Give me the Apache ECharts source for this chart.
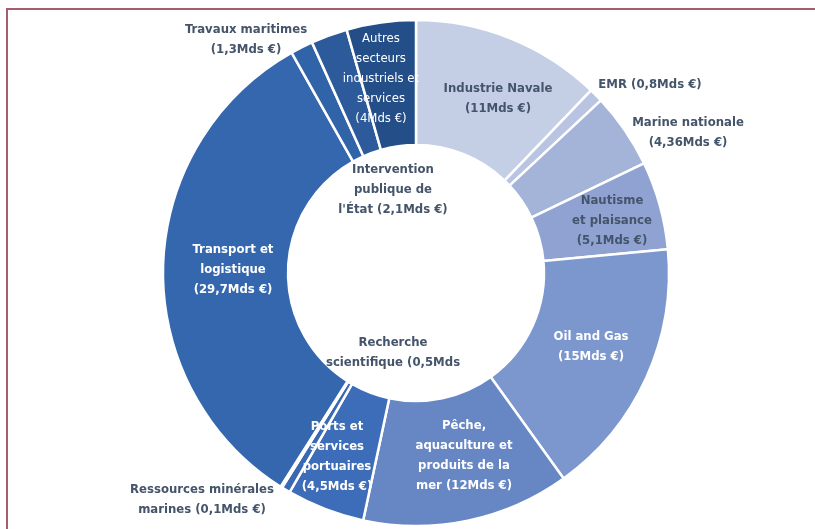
<!DOCTYPE html>
<html>
<head>
<meta charset="utf-8">
<script src="https://cdn.jsdelivr.net/npm/echarts@6/dist/echarts.min.js"></script>
<style>
 html, body { margin: 0; padding: 0; background: #fff; }
 #chart { width: 815px; height: 529px; }
</style>
</head>
<body>
<div id="chart"></div>
<script>
/** données (Mds €), sens horaire depuis midi **/
var secteurs = ['Industrie Navale', 'EMR', 'Marine nationale', 'Nautisme et plaisance', 'Oil and Gas',
 'Pêche, aquaculture et produits de la mer', 'Ports et services portuaires', 'Recherche scientifique',
 'Ressources minérales marines', 'Transport et logistique', 'Travaux maritimes',
 'Intervention publique de l\'État', 'Autres secteurs industriels et services'];
var valeurs = [11, 0.8, 4.36, 5.1, 15, 12, 4.5, 0.5, 0.1, 29.7, 1.3, 2.1, 4];
var libelles = [
 'Industrie Navale\n(11Mds €)',
 'EMR (0,8Mds €)',
 'Marine nationale\n(4,36Mds €)',
 'Nautisme\net plaisance\n(5,1Mds €)',
 'Oil and Gas\n(15Mds €)',
 'Pêche,\naquaculture et\nproduits de la\nmer (12Mds €)',
 'Ports et\nservices\nportuaires\n(4,5Mds €)',
 'Recherche\nscientifique (0,5Mds',
 'Ressources minérales\nmarines (0,1Mds €)',
 'Transport et\nlogistique\n(29,7Mds €)',
 'Travaux maritimes\n(1,3Mds €)',
 'Intervention\npublique de\nl\'État (2,1Mds €)',
 'Autres\nsecteurs\nindustriels et\nservices\n(4Mds €)'
];

/** styles **/
var couleurs = ['#c4cee5', '#b8c4e1', '#a4b3d8', '#8fa2d1', '#7c96ce', '#6686c4', '#3d6db8',
 '#3a69b2', '#3868b0', '#3567ae', '#3163a8', '#2c5a9b', '#234e88'];
var couleursTexte = ['#44546a', '#44546a', '#44546a', '#44546a', '#fff', '#fff', '#fff',
 '#44546a', '#44546a', '#fff', '#44546a', '#44546a', '#fff'];
// centre de chaque étiquette (px)
var posLabels = [[498, 99], [650, 85], [688, 133], [612, 221], [591, 347], [464, 456], [337, 457],
 [393, 353], [202, 500], [233, 270], [246, 40], [393, 190], [381, 79]];

var chart = echarts.init(document.getElementById('chart'));
var data = [];
secteurs.forEach(function(nom, i) {
 data.push({
  name: nom,
  value: valeurs[i],
  itemStyle: { color: couleurs[i] },
  label: {
   formatter: libelles[i],
   color: couleursTexte[i],
   fontWeight: i === 12 ? 'normal' : 'bold'
  }
 });
});

var option = {
 animation: false,
 graphic: [{
  type: 'rect',
  shape: { x: 7, y: 9, width: 900, height: 600 },
  style: { fill: 'none', stroke: '#a85d6c', lineWidth: 2 },
  silent: true
 }],
 series: [{
  type: 'pie',
  center: [416, 273],
  radius: [128, 253],
  startAngle: 90,
  clockwise: true,
  avoidLabelOverlap: false,
  silent: true,
  itemStyle: { borderColor: '#fff', borderWidth: 2.5 },
  label: {
   show: true,
   position: 'inside',
   fontFamily: '"DejaVu Sans Condensed", sans-serif',
   fontSize: 13,
   lineHeight: 20,
   align: 'center'
  },
  labelLine: { show: false },
  labelLayout: function(params) {
   var p = posLabels[params.dataIndex];
   return { x: p[0], y: p[1], align: 'center', verticalAlign: 'middle' };
  },
  data: data
 }]
};
chart.setOption(option);
</script>
</body>
</html>
